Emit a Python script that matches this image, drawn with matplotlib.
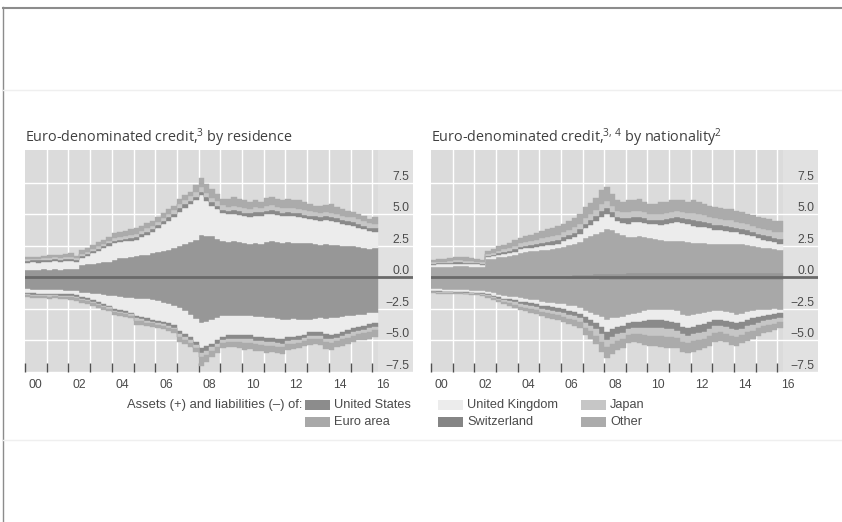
import numpy as np
import matplotlib
matplotlib.use("Agg")
import matplotlib.pyplot as plt
from matplotlib.patches import Rectangle
from matplotlib.lines import Line2D

# ---------------------------------------------------------------------------
# Quarterly data, 2000 Q1 - 2016 Q1 (65 quarters), USD trn
# ---------------------------------------------------------------------------
start_year = 2000
n_quarters = 65
year_labels = ["00", "02", "04", "06", "08", "10", "12", "14", "16"]
ytick_values = [-7.5, -5.0, -2.5, 0.0, 2.5, 5.0, 7.5]
ytick_labels = ["\u22127.5", "\u22125.0", "\u22122.5", "0.0", "2.5", "5.0", "7.5"]

# --- by residence: assets (+) ---
res_assets_us = [0.60, 0.62, 0.60, 0.63, 0.62, 0.64, 0.62, 0.65, 0.66, 0.68, 1.00, 1.05,
                 1.10, 1.15, 1.20, 1.25, 1.40, 1.50, 1.55, 1.65, 1.70, 1.75, 1.80, 1.90,
                 2.00, 2.10, 2.20, 2.30, 2.50, 2.65, 2.80, 3.00, 3.35, 3.30, 3.25, 3.05,
                 2.85, 2.80, 2.85, 2.80, 2.70, 2.65, 2.70, 2.65, 2.80, 2.85, 2.80, 2.75,
                 2.80, 2.75, 2.75, 2.70, 2.70, 2.65, 2.60, 2.65, 2.60, 2.55, 2.50, 2.45,
                 2.45, 2.40, 2.35, 2.25, 2.30]
res_assets_uk = [0.55, 0.58, 0.58, 0.59, 0.63, 0.64, 0.63, 0.65, 0.62, 0.57, 0.55, 0.65,
                 0.80, 0.95, 1.10, 1.25, 1.30, 1.30, 1.30, 1.25, 1.30, 1.45, 1.60, 1.70,
                 1.90, 2.10, 2.30, 2.50, 2.70, 2.85, 3.00, 3.10, 3.15, 2.75, 2.45, 2.35,
                 2.25, 2.20, 2.20, 2.15, 2.15, 2.15, 2.20, 2.20, 2.20, 2.20, 2.15, 2.10,
                 2.10, 2.10, 2.05, 2.00, 1.90, 1.90, 1.90, 1.90, 1.90, 1.85, 1.75, 1.70,
                 1.65, 1.55, 1.45, 1.40, 1.30]
res_assets_ch = [0.15, 0.15, 0.16, 0.15, 0.16, 0.16, 0.15, 0.16, 0.16, 0.15, 0.16, 0.17,
                 0.17, 0.18, 0.18, 0.19, 0.20, 0.20, 0.21, 0.21, 0.22, 0.22, 0.23, 0.23,
                 0.24, 0.24, 0.25, 0.26, 0.27, 0.28, 0.29, 0.30, 0.30, 0.30, 0.29, 0.28,
                 0.28, 0.28, 0.29, 0.29, 0.29, 0.30, 0.30, 0.30, 0.30, 0.30, 0.29, 0.29,
                 0.29, 0.28, 0.28, 0.28, 0.28, 0.28, 0.28, 0.28, 0.28, 0.29, 0.29, 0.29,
                 0.30, 0.30, 0.30, 0.30, 0.30]
res_assets_jp = [0.12, 0.12, 0.13, 0.13, 0.13, 0.14, 0.14, 0.14, 0.14, 0.13, 0.15, 0.16,
                 0.17, 0.18, 0.19, 0.20, 0.21, 0.22, 0.23, 0.24, 0.25, 0.26, 0.27, 0.28,
                 0.28, 0.29, 0.30, 0.31, 0.32, 0.33, 0.34, 0.35, 0.35, 0.35, 0.34, 0.34,
                 0.34, 0.34, 0.35, 0.35, 0.35, 0.35, 0.36, 0.36, 0.36, 0.36, 0.36, 0.35,
                 0.35, 0.35, 0.35, 0.35, 0.35, 0.35, 0.34, 0.34, 0.34, 0.35, 0.35, 0.35,
                 0.35, 0.35, 0.35, 0.35, 0.35]
res_assets_other = [0.18, 0.18, 0.15, 0.20, 0.21, 0.22, 0.24, 0.25, 0.32, 0.17, 0.34, 0.32,
                    0.36, 0.34, 0.33, 0.31, 0.39, 0.38, 0.41, 0.45, 0.48, 0.42, 0.40, 0.39,
                    0.33, 0.37, 0.35, 0.33, 0.41, 0.39, 0.37, 0.55, 0.75, 0.70, 0.67, 0.58,
                    0.48, 0.58, 0.66, 0.66, 0.61, 0.55, 0.54, 0.44, 0.64, 0.64, 0.65, 0.61,
                    0.66, 0.67, 0.67, 0.67, 0.57, 0.52, 0.53, 0.58, 0.68, 0.56, 0.51, 0.46,
                    0.40, 0.40, 0.45, 0.30, 0.50]

# --- by residence: liabilities (-) ---
res_liab_us = [-0.95, -0.97, -1.00, -1.00, -1.02, -1.00, -1.03, -1.05, -1.05, -1.08, -1.20, -1.25,
               -1.30, -1.35, -1.40, -1.45, -1.50, -1.55, -1.60, -1.65, -1.70, -1.72, -1.75, -1.80,
               -1.90, -2.00, -2.10, -2.25, -2.45, -2.70, -2.95, -3.30, -3.60, -3.50, -3.40, -3.25,
               -3.10, -3.05, -3.05, -3.10, -3.10, -3.10, -3.15, -3.15, -3.20, -3.25, -3.30, -3.35,
               -3.35, -3.30, -3.35, -3.35, -3.35, -3.30, -3.25, -3.30, -3.25, -3.20, -3.15, -3.10,
               -3.05, -3.00, -2.95, -2.85, -2.80]
res_liab_uk = [-0.30, -0.30, -0.32, -0.30, -0.30, -0.32, -0.30, -0.30, -0.30, -0.32, -0.35, -0.40,
               -0.50, -0.60, -0.70, -0.80, -1.00, -1.05, -1.10, -1.15, -1.35, -1.40, -1.50, -1.55,
               -1.55, -1.55, -1.55, -1.55, -1.80, -1.80, -1.80, -1.85, -2.00, -1.95, -1.85, -1.75,
               -1.60, -1.55, -1.50, -1.45, -1.45, -1.50, -1.55, -1.55, -1.60, -1.55, -1.55, -1.55,
               -1.40, -1.40, -1.30, -1.20, -1.00, -1.05, -1.10, -1.20, -1.30, -1.25, -1.15, -1.10,
               -1.00, -0.95, -0.90, -0.85, -0.80]
res_liab_ch = [-0.10, -0.10, -0.10, -0.11, -0.11, -0.10, -0.11, -0.12, -0.13, -0.13, -0.13, -0.13,
               -0.13, -0.13, -0.13, -0.13, -0.13, -0.13, -0.13, -0.13, -0.20, -0.20, -0.18, -0.16,
               -0.16, -0.16, -0.18, -0.18, -0.25, -0.24, -0.24, -0.22, -0.40, -0.36, -0.30, -0.30,
               -0.27, -0.27, -0.30, -0.30, -0.35, -0.32, -0.32, -0.34, -0.35, -0.34, -0.34, -0.35,
               -0.30, -0.30, -0.28, -0.27, -0.30, -0.28, -0.30, -0.35, -0.35, -0.32, -0.32, -0.32,
               -0.30, -0.30, -0.32, -0.34, -0.32]
res_liab_jp = [-0.08, -0.08, -0.08, -0.09, -0.09, -0.08, -0.09, -0.10, -0.11, -0.11, -0.11, -0.11,
               -0.11, -0.11, -0.11, -0.11, -0.11, -0.11, -0.11, -0.11, -0.17, -0.17, -0.15, -0.14,
               -0.14, -0.14, -0.15, -0.15, -0.21, -0.20, -0.20, -0.19, -0.35, -0.31, -0.26, -0.25,
               -0.22, -0.22, -0.25, -0.26, -0.30, -0.27, -0.27, -0.29, -0.30, -0.29, -0.29, -0.30,
               -0.25, -0.25, -0.24, -0.22, -0.25, -0.24, -0.25, -0.30, -0.30, -0.27, -0.27, -0.27,
               -0.26, -0.26, -0.27, -0.29, -0.27]
res_liab_other = [-0.12, -0.15, -0.12, -0.15, -0.16, -0.15, -0.17, -0.18, -0.21, -0.21, -0.21, -0.21,
                  -0.21, -0.21, -0.21, -0.21, -0.21, -0.21, -0.21, -0.21, -0.33, -0.31, -0.27, -0.25,
                  -0.25, -0.25, -0.27, -0.27, -0.39, -0.36, -0.36, -0.34, -0.70, -0.58, -0.49, -0.45,
                  -0.41, -0.41, -0.45, -0.49, -0.55, -0.51, -0.51, -0.52, -0.55, -0.52, -0.52, -0.55,
                  -0.45, -0.45, -0.43, -0.41, -0.45, -0.43, -0.45, -0.55, -0.55, -0.51, -0.51, -0.51,
                  -0.49, -0.49, -0.51, -0.52, -0.51]

# --- by nationality: assets (+) ---
nat_assets_us = [0.03, 0.03, 0.03, 0.03, 0.03, 0.03, 0.03, 0.03, 0.03, 0.03, 0.04, 0.04,
                 0.04, 0.04, 0.04, 0.05, 0.05, 0.05, 0.06, 0.06, 0.08, 0.08, 0.10, 0.10,
                 0.12, 0.14, 0.16, 0.18, 0.20, 0.22, 0.25, 0.28, 0.30, 0.30, 0.30, 0.30,
                 0.32, 0.32, 0.33, 0.33, 0.34, 0.34, 0.35, 0.35, 0.36, 0.36, 0.37, 0.37,
                 0.37, 0.37, 0.38, 0.38, 0.38, 0.38, 0.38, 0.38, 0.37, 0.37, 0.36, 0.36,
                 0.36, 0.35, 0.35, 0.35, 0.35]
nat_assets_ea = [0.78, 0.80, 0.80, 0.83, 0.84, 0.85, 0.84, 0.82, 0.80, 0.78, 1.40, 1.45,
                 1.55, 1.60, 1.65, 1.75, 1.90, 1.95, 2.00, 2.05, 2.10, 2.12, 2.15, 2.20,
                 2.30, 2.40, 2.50, 2.65, 2.90, 3.05, 3.20, 3.35, 3.55, 3.45, 3.25, 3.05,
                 2.85, 2.90, 2.95, 2.85, 2.75, 2.70, 2.60, 2.55, 2.55, 2.55, 2.50, 2.45,
                 2.35, 2.35, 2.35, 2.30, 2.30, 2.30, 2.30, 2.30, 2.30, 2.25, 2.20, 2.15,
                 2.05, 2.00, 1.95, 1.90, 1.85]
nat_assets_uk = [0.20, 0.20, 0.20, 0.20, 0.20, 0.20, 0.20, 0.20, 0.20, 0.18, 0.15, 0.18,
                 0.20, 0.20, 0.22, 0.25, 0.28, 0.30, 0.30, 0.32, 0.32, 0.33, 0.35, 0.38,
                 0.45, 0.50, 0.55, 0.65, 0.80, 0.90, 1.00, 1.15, 1.15, 1.00, 0.90, 1.00,
                 1.10, 1.15, 1.10, 1.15, 1.15, 1.20, 1.20, 1.30, 1.40, 1.45, 1.45, 1.40,
                 1.35, 1.30, 1.25, 1.20, 1.10, 1.05, 1.00, 0.95, 0.90, 0.85, 0.80, 0.75,
                 0.70, 0.65, 0.60, 0.55, 0.45]
nat_assets_ch = [0.08, 0.09, 0.09, 0.11, 0.12, 0.12, 0.11, 0.11, 0.09, 0.09, 0.11, 0.13,
                 0.15, 0.17, 0.18, 0.20, 0.20, 0.22, 0.23, 0.25, 0.26, 0.29, 0.30, 0.30,
                 0.30, 0.31, 0.33, 0.33, 0.36, 0.38, 0.41, 0.47, 0.47, 0.41, 0.36, 0.36,
                 0.40, 0.39, 0.40, 0.37, 0.34, 0.35, 0.40, 0.40, 0.39, 0.39, 0.39, 0.39,
                 0.45, 0.44, 0.41, 0.40, 0.39, 0.39, 0.39, 0.39, 0.38, 0.38, 0.37, 0.37,
                 0.36, 0.37, 0.37, 0.36, 0.41]
nat_assets_jp = [0.10, 0.12, 0.12, 0.14, 0.15, 0.15, 0.14, 0.14, 0.12, 0.11, 0.14, 0.16,
                 0.18, 0.21, 0.24, 0.25, 0.26, 0.28, 0.29, 0.31, 0.34, 0.37, 0.38, 0.38,
                 0.39, 0.39, 0.42, 0.43, 0.46, 0.48, 0.52, 0.59, 0.60, 0.52, 0.46, 0.46,
                 0.51, 0.50, 0.51, 0.47, 0.44, 0.45, 0.50, 0.50, 0.50, 0.50, 0.50, 0.50,
                 0.57, 0.55, 0.52, 0.51, 0.50, 0.50, 0.50, 0.50, 0.48, 0.48, 0.47, 0.47,
                 0.46, 0.48, 0.48, 0.46, 0.52]
nat_assets_other = [0.19, 0.21, 0.21, 0.24, 0.26, 0.27, 0.26, 0.25, 0.21, 0.21, 0.26, 0.29,
                    0.33, 0.38, 0.42, 0.45, 0.46, 0.50, 0.52, 0.56, 0.60, 0.66, 0.67, 0.69,
                    0.69, 0.71, 0.74, 0.76, 0.83, 0.87, 0.92, 1.06, 1.08, 0.92, 0.83, 0.83,
                    0.92, 0.89, 0.91, 0.83, 0.78, 0.81, 0.90, 0.90, 0.90, 0.90, 0.89, 0.89,
                    1.01, 0.99, 0.94, 0.91, 0.88, 0.88, 0.88, 0.88, 0.87, 0.87, 0.85, 0.85,
                    0.82, 0.85, 0.85, 0.83, 0.92]

# --- by nationality: liabilities (-) ---
nat_liab_us = [-0.02, -0.02, -0.02, -0.02, -0.02, -0.02, -0.02, -0.02, -0.02, -0.02, -0.02, -0.02,
               -0.02, -0.02, -0.02, -0.02, -0.02, -0.02, -0.02, -0.02, -0.04, -0.05, -0.05, -0.06,
               -0.08, -0.09, -0.10, -0.12, -0.14, -0.15, -0.16, -0.18, -0.20, -0.20, -0.20, -0.20,
               -0.20, -0.20, -0.20, -0.20, -0.20, -0.20, -0.20, -0.20, -0.20, -0.20, -0.20, -0.20,
               -0.20, -0.20, -0.20, -0.20, -0.20, -0.20, -0.20, -0.20, -0.20, -0.20, -0.20, -0.20,
               -0.20, -0.20, -0.20, -0.20, -0.20]
nat_liab_ea = [-0.90, -0.92, -0.95, -0.97, -0.98, -0.98, -1.00, -1.02, -1.05, -1.08, -1.15, -1.25,
               -1.35, -1.45, -1.50, -1.55, -1.65, -1.70, -1.75, -1.80, -1.90, -1.95, -2.00, -2.05,
               -2.05, -2.15, -2.20, -2.30, -2.50, -2.65, -2.80, -2.95, -3.15, -3.05, -3.00, -2.95,
               -2.80, -2.70, -2.60, -2.50, -2.40, -2.35, -2.35, -2.35, -2.35, -2.45, -2.75, -2.90,
               -2.75, -2.70, -2.65, -2.55, -2.50, -2.50, -2.55, -2.65, -2.75, -2.70, -2.55, -2.45,
               -2.40, -2.35, -2.35, -2.30, -2.35]
nat_liab_uk = [-0.15, -0.15, -0.16, -0.15, -0.15, -0.16, -0.15, -0.16, -0.16, -0.17, -0.18, -0.20,
               -0.20, -0.22, -0.22, -0.24, -0.25, -0.25, -0.26, -0.28, -0.30, -0.30, -0.32, -0.35,
               -0.38, -0.40, -0.42, -0.45, -0.50, -0.55, -0.65, -0.80, -0.95, -0.85, -0.75, -0.70,
               -0.65, -0.65, -0.70, -0.75, -0.80, -0.85, -0.85, -0.90, -0.95, -0.95, -0.95, -0.95,
               -0.95, -0.90, -0.85, -0.80, -0.65, -0.65, -0.70, -0.70, -0.65, -0.65, -0.60, -0.60,
               -0.55, -0.50, -0.45, -0.40, -0.30]
nat_liab_ch = [-0.05, -0.06, -0.05, -0.05, -0.05, -0.05, -0.05, -0.05, -0.05, -0.05, -0.08, -0.10,
               -0.13, -0.14, -0.15, -0.18, -0.20, -0.22, -0.23, -0.24, -0.26, -0.27, -0.28, -0.28,
               -0.31, -0.32, -0.34, -0.35, -0.44, -0.47, -0.51, -0.59, -0.63, -0.60, -0.56, -0.53,
               -0.48, -0.48, -0.51, -0.57, -0.62, -0.62, -0.65, -0.65, -0.63, -0.62, -0.62, -0.60,
               -0.60, -0.60, -0.59, -0.57, -0.54, -0.51, -0.51, -0.56, -0.56, -0.51, -0.51, -0.50,
               -0.45, -0.42, -0.39, -0.39, -0.36]
nat_liab_jp = [-0.06, -0.06, -0.06, -0.05, -0.06, -0.05, -0.06, -0.06, -0.06, -0.06, -0.08, -0.10,
               -0.12, -0.13, -0.15, -0.17, -0.19, -0.21, -0.22, -0.23, -0.25, -0.26, -0.27, -0.27,
               -0.29, -0.31, -0.33, -0.33, -0.42, -0.45, -0.49, -0.57, -0.61, -0.58, -0.54, -0.51,
               -0.46, -0.47, -0.50, -0.55, -0.60, -0.61, -0.63, -0.63, -0.61, -0.60, -0.60, -0.58,
               -0.58, -0.58, -0.57, -0.55, -0.52, -0.50, -0.50, -0.54, -0.54, -0.50, -0.49, -0.48,
               -0.44, -0.41, -0.38, -0.37, -0.35]
nat_liab_other = [-0.07, -0.07, -0.06, -0.06, -0.06, -0.06, -0.07, -0.07, -0.06, -0.07, -0.09, -0.13,
                  -0.17, -0.18, -0.21, -0.23, -0.28, -0.29, -0.31, -0.32, -0.34, -0.36, -0.37, -0.38,
                  -0.42, -0.42, -0.45, -0.48, -0.58, -0.61, -0.67, -0.79, -0.84, -0.80, -0.73, -0.69,
                  -0.64, -0.64, -0.68, -0.76, -0.81, -0.81, -0.85, -0.85, -0.84, -0.81, -0.81, -0.80,
                  -0.80, -0.80, -0.77, -0.76, -0.72, -0.68, -0.68, -0.73, -0.73, -0.68, -0.68, -0.65,
                  -0.60, -0.56, -0.52, -0.52, -0.48]

# ---------------------------------------------------------------------------
# Styling
# ---------------------------------------------------------------------------
C_US = "#979797"
C_EA = "#a8a8a8"
C_UK = "#ececec"
C_JP = "#c6c6c6"
C_CH = "#8a8a8a"
C_OTHER = "#ababab"
BG = "#dbdbdb"
BG_EDGE = "#e1e1e1"
TEXT = "#4a4a4a"

plt.rcParams["mathtext.fontset"] = "custom"
plt.rcParams["mathtext.rm"] = "Open Sans"
plt.rcParams["mathtext.it"] = "Open Sans:italic"
plt.rcParams["mathtext.bf"] = "Open Sans:bold"

W, H = 842, 522
fig = plt.figure(figsize=(W / 100, H / 100), dpi=100)
fig.patch.set_facecolor("white")


def fx(px):
    return px / W


def fy(py):
    return 1 - py / H


quarters = start_year + 0.25 * np.arange(n_quarters)
edges = np.append(quarters, quarters[-1] + 0.25)


def draw_stack(ax, layers):
    base = np.zeros(len(edges))
    for vals, color in layers:
        v = np.append(vals, vals[-1])
        top = base + v
        ax.fill_between(edges, base, top, step="post", facecolor=color,
                        edgecolor=color, linewidth=0.3, zorder=2)
        base = top


def setup_axes(ax):
    ax.set_xlim(2000, 2017.88)
    ax.set_ylim(-7.5, 10.1)
    ax.set_facecolor(BG_EDGE)
    ax.axvspan(2000, quarters[-1] + 0.25, color=BG, lw=0, zorder=0)
    for s in ax.spines.values():
        s.set_visible(False)
    for v in ytick_values:
        ax.axhline(v, color="white", lw=1.0, zorder=1)
    for yr in range(2001, 2017):
        ax.axvline(yr, color="white", lw=1.0, zorder=1)
    ax.set_yticks(ytick_values)
    ax.set_yticklabels(ytick_labels)
    ax.yaxis.tick_right()
    ax.tick_params(axis="y", length=0, pad=-2.5, labelsize=8.7, labelcolor=TEXT)
    for lab in ax.get_yticklabels():
        lab.set_fontfamily("Liberation Sans")
        lab.set_ha("right")
        lab.set_va("bottom")
    ax.set_xticks(np.arange(2000, 2017))
    ax.set_xticklabels([])
    ax.set_xticks(np.arange(2000.5, 2017, 2), minor=True)
    ax.set_xticklabels(year_labels, minor=True, fontfamily="Liberation Sans")
    ax.tick_params(axis="x", which="major", direction="in", length=6.5, width=1.0,
                   color="#505050")
    ax.tick_params(axis="x", which="minor", length=0, pad=5, labelsize=8.7,
                   labelcolor=TEXT)
    ax.axhline(0, color="#6a6a6a", lw=2.0, zorder=4)


ax1 = fig.add_axes([fx(25), fy(372), fx(413) - fx(25), fy(150) - fy(372)])
ax2 = fig.add_axes([fx(431), fy(372), fx(818) - fx(431), fy(150) - fy(372)])
setup_axes(ax1)
setup_axes(ax2)

draw_stack(ax1, [(res_assets_us, C_US), (res_assets_uk, C_UK), (res_assets_ch, C_CH),
                 (res_assets_jp, C_JP), (res_assets_other, C_OTHER)])
draw_stack(ax1, [(res_liab_us, C_US), (res_liab_uk, C_UK), (res_liab_ch, C_CH),
                 (res_liab_jp, C_JP), (res_liab_other, C_OTHER)])
draw_stack(ax2, [(nat_assets_us, C_US), (nat_assets_ea, C_EA), (nat_assets_uk, C_UK),
                 (nat_assets_ch, C_CH), (nat_assets_jp, C_JP), (nat_assets_other, C_OTHER)])
draw_stack(ax2, [(nat_liab_us, C_US), (nat_liab_ea, C_EA), (nat_liab_uk, C_UK),
                 (nat_liab_ch, C_CH), (nat_liab_jp, C_JP), (nat_liab_other, C_OTHER)])

# Panel titles
fig.text(fx(25), fy(138), "Euro-denominated credit,$^{3}$ by residence",
         fontsize=10.4, family="Open Sans", color="#404040", va="center")
fig.text(fx(431), fy(138), "Euro-denominated credit,$^{3,\\,4}$ by nationality$^{2}$",
         fontsize=10.4, family="Open Sans", color="#404040", va="center")


# Legend
def legend_entry(x, y, color, label):
    fig.patches.append(Rectangle((fx(x), fy(y + 5)), 25 / W, 10 / H,
                                 transform=fig.transFigure, facecolor=color,
                                 edgecolor="none"))
    fig.text(fx(x + 29), fy(y), label, fontsize=9.2, family="Liberation Sans",
             color=TEXT, va="center")


fig.text(fx(302), fy(405), "Assets (+) and liabilities (\u2013) of:", fontsize=9.4,
         family="Liberation Sans", color=TEXT, va="center", ha="right")
legend_entry(305, 405, "#8c8c8c", "United States")
legend_entry(305, 422, C_EA, "Euro area")
legend_entry(438, 405, C_UK, "United Kingdom")
legend_entry(438, 422, "#858585", "Switzerland")
legend_entry(581, 405, C_JP, "Japan")
legend_entry(581, 422, C_OTHER, "Other")

# Page frame
fig.add_artist(Line2D([fx(3), 1], [fy(7.5), fy(7.5)], color="#8c8c8c", lw=1.5))
fig.add_artist(Line2D([fx(3), fx(3)], [fy(7), 0], color="#8c8c8c", lw=1.0))
fig.add_artist(Line2D([fx(3), 1], [fy(90), fy(90)], color="#efefef", lw=1.0))
fig.add_artist(Line2D([fx(3), 1], [fy(440), fy(440)], color="#efefef", lw=1.0))

fig.savefig("out.png", dpi=100, facecolor="white")
